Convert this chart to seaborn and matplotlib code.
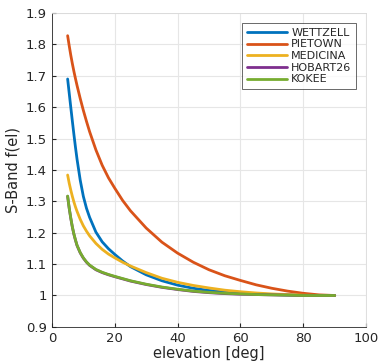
import numpy as np
import pandas as pd
import matplotlib
matplotlib.use("Agg")
import matplotlib.pyplot as plt
import seaborn as sns

# elevation samples [deg]
elevation = [5, 5.5, 6, 6.5, 7, 7.5, 8, 9, 10, 11, 12, 14, 16, 18, 20, 22.5,
             25, 30, 35, 40, 45, 50, 55, 60, 65, 70, 75, 80, 85, 90]

# S-Band mapping function values
wettzell = [1.690, 1.645, 1.600, 1.556, 1.513, 1.472, 1.434, 1.368, 1.316, 1.278,
            1.249, 1.202, 1.171, 1.149, 1.131, 1.110, 1.092, 1.066, 1.047, 1.033,
            1.023, 1.016, 1.011, 1.008, 1.005, 1.003, 1.002, 1.001, 1.000, 1.000]
pietown = [1.828, 1.796, 1.766, 1.739, 1.714, 1.691, 1.669, 1.628, 1.590, 1.555,
           1.522, 1.464, 1.415, 1.375, 1.342, 1.303, 1.270, 1.215, 1.170, 1.135,
           1.106, 1.082, 1.063, 1.048, 1.034, 1.023, 1.014, 1.007, 1.002, 1.000]
medicina = [1.384, 1.358, 1.336, 1.316, 1.298, 1.282, 1.268, 1.243, 1.222, 1.205,
            1.190, 1.166, 1.147, 1.132, 1.120, 1.106, 1.094, 1.073, 1.055, 1.042,
            1.032, 1.024, 1.017, 1.012, 1.008, 1.005, 1.003, 1.001, 1.000, 1.000]
hobart26 = [1.316, 1.278, 1.246, 1.218, 1.195, 1.176, 1.159, 1.136, 1.119, 1.106,
            1.096, 1.082, 1.073, 1.066, 1.060, 1.053, 1.046, 1.035, 1.026, 1.019,
            1.013, 1.009, 1.006, 1.004, 1.003, 1.002, 1.001, 1.000, 1.000, 1.000]
kokee = [1.317, 1.279, 1.247, 1.219, 1.196, 1.177, 1.160, 1.137, 1.120, 1.107,
         1.097, 1.083, 1.074, 1.067, 1.061, 1.054, 1.047, 1.036, 1.027, 1.020,
         1.014, 1.010, 1.007, 1.005, 1.003, 1.002, 1.001, 1.000, 1.000, 1.000]

stations = ["WETTZELL", "PIETOWN", "MEDICINA", "HOBART26", "KOKEE"]
colors = ["#0072BD", "#D95319", "#EDB120", "#7E2F8E", "#77AC30"]

df = pd.DataFrame({
    "elevation": elevation * 5,
    "f": wettzell + pietown + medicina + hobart26 + kokee,
    "station": sum([[s] * len(elevation) for s in stations], []),
})

sns.set_style("white")
plt.rcParams["font.family"] = ["DejaVu Sans"]

fig = plt.figure(figsize=(3.79, 3.64), dpi=100)
ax = fig.add_axes([0.137, 0.102, 0.829, 0.862])

sns.lineplot(data=df, x="elevation", y="f", hue="station", hue_order=stations,
             palette=colors, linewidth=2, ax=ax)

ax.set_xlim(0, 100)
ax.set_ylim(0.9, 1.9)
ax.set_xticks(np.arange(0, 101, 20))
ax.set_yticks(np.round(np.arange(0.9, 1.91, 0.1), 1))
ax.set_yticklabels(["0.9", "1", "1.1", "1.2", "1.3", "1.4", "1.5", "1.6",
                    "1.7", "1.8", "1.9"])
ax.grid(True, color="#e6e6e6", linewidth=0.8)
ax.tick_params(labelsize=9.5, colors="#262626", length=3, direction="in",
               left=True, bottom=True)
ax.set_xlabel("elevation [deg]", fontsize=10.5, color="#262626", labelpad=1)
ax.set_ylabel("S-Band f(el)", fontsize=10.5, color="#262626", labelpad=4)
for side in ["left", "bottom"]:
    ax.spines[side].set_color("#262626")
    ax.spines[side].set_linewidth(0.6)
for side in ["top", "right"]:
    ax.spines[side].set_color("#d9d9d9")
    ax.spines[side].set_linewidth(0.6)

leg = ax.legend(loc="upper right", fontsize=8, frameon=True, fancybox=False,
                handlelength=3.6, handletextpad=0.4, borderpad=0.4,
                labelspacing=0.15, bbox_to_anchor=(0.985, 0.985))
leg.get_frame().set_edgecolor("#262626")
leg.get_frame().set_linewidth(0.6)
for line in leg.get_lines():
    line.set_linewidth(2)

fig.savefig("out.png", dpi=100)
